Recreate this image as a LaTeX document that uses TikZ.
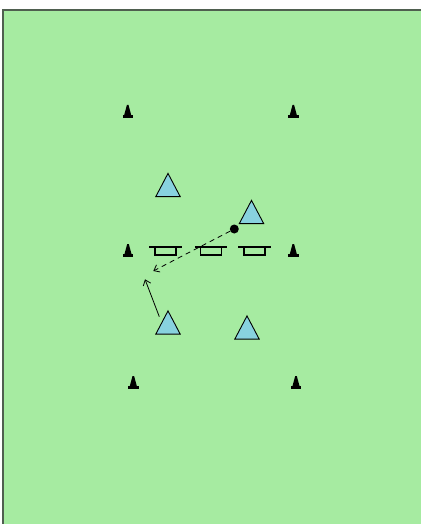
\documentclass[tikz,border=0pt]{standalone}
\usetikzlibrary{arrows.meta}
\definecolor{fieldgreen}{HTML}{A6EBA1}
\definecolor{bordergray}{HTML}{4F5F4F}
\definecolor{playerblue}{HTML}{88D2DF}
\begin{document}
\begin{tikzpicture}[x=1pt,y=-1pt,
  cone/.pic={\fill (-3.5,4) -- (-0.8,-6) -- (0.8,-6) -- (3.5,4) -- cycle; \fill (-5.2,4) rectangle (5.2,6.5);},
  player/.pic={\draw[fill=playerblue, line width=0.9pt, line join=miter] (-12.2,11.6) -- (0,-11.6) -- (12.2,11.6) -- cycle;},
  goal/.pic={\draw[line width=1.6pt] (-16.2,0) -- (16.2,0); \draw[line width=1.3pt] (-10.6,0) rectangle (10.6,8.2);},
  ballstyle/.style={circle, fill=black, inner sep=0pt, minimum size=9pt},
  runarrow/.style={line width=0.8pt, -{Straight Barb[length=5pt,width=8pt]}},
  passarrow/.style={runarrow, dash pattern=on 5pt off 4pt}
]
\useasboundingbox (0,0) rectangle (421,524);
% field
\fill[fieldgreen] (3,10) rectangle (421,524);
\draw[bordergray, line width=1.2pt] (3,524) -- (3,10) -- (421,10);
% cones
\pic at (127.7,111) {cone};
\pic at (293.3,111) {cone};
\pic at (128,250) {cone};
\pic at (293.3,250) {cone};
\pic at (133.3,382) {cone};
\pic at (296,382) {cone};
% mini goals
\pic at (165.5,246.7) {goal};
\pic at (211,246.7) {goal};
\pic at (254.5,246.7) {goal};
% players
\pic at (168,185) {player};
\pic at (251.5,212) {player};
\pic at (168,322.5) {player};
\pic at (247,327.5) {player};
% ball and arrows
\node[ballstyle] (ball) at (234.3,229) {};
\coordinate (passend) at (153.3,271);
\coordinate (runstart) at (159.3,316.7);
\coordinate (runend) at (145,279.3);
\draw[passarrow] (ball) -- (passend);
\draw[runarrow] (runstart) -- (runend);
\end{tikzpicture}
\end{document}
